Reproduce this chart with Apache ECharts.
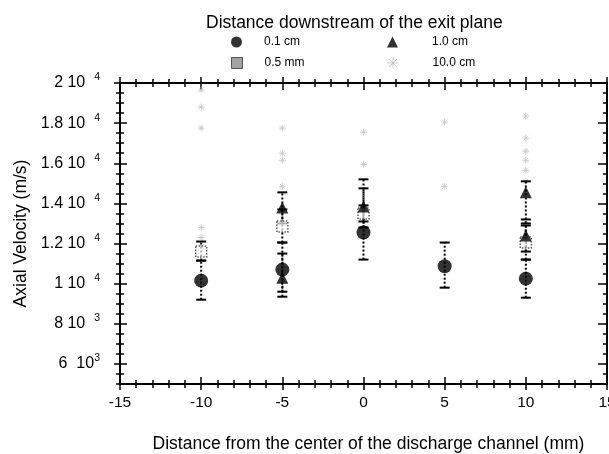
<!DOCTYPE html>
<html>
<head>
<meta charset="utf-8">
<script src="https://cdn.jsdelivr.net/npm/echarts@6/dist/echarts.min.js"></script>
<style>
html,body{margin:0;padding:0;background:#fff;}
#chart{width:609px;height:454px;}
</style>
</head>
<body>
<div id="chart"></div>
<script>
// ---- data ----
const seriesNames = ['0.1 cm', '0.5 mm', '1.0 cm', '10.0 cm'];

// 0.1 cm (filled circles)
const circleX  = [-10, -5, 0, 5, 10];
const circleY  = [10150, 10700, 12550, 10870, 10250];
const circleLo = [9200, 9350, 11200, 9800, 9300];
const circleHi = [11150, 12050, 13900, 12050, 11200];

// 0.5 mm (open squares)
const squareX  = [-10, -5, 0, 10];
const squareY  = [11600, 12850, 13500, 12050];
const squareLo = [11150, 12050, 12800, 11200];
const squareHi = [12100, 13700, 14750, 12900];

// 1.0 cm (triangles)
const triX  = [-5, -5, 0, 10, 10];
const triY  = [13800, 10300, 13850, 14550, 12400];
const triLo = [13000, 9600, 13100, 13000, 11600];
const triHi = [14550, 11500, 15200, 15100, 13200];

// 10.0 cm (faint points)
const tenX = [-10, -10, -10, -10, -10, -10, -5, -5, -5, -5, 0, 0, 5, 5, 10, 10, 10, 10, 10, 10];
const tenY = [19650, 18800, 17750, 12800, 12300, 11850, 17750, 16500, 16150, 14850, 17550, 15950, 18050, 14850, 18350, 17250, 16600, 16150, 15650, 15100];

// axes
const xMin = -15, xMax = 15, xMajor = 5, xMinor = 1;
const yMin = 5000, yMax = 20000, yMinor = 500;
const yTickValues   = [6000, 8000, 10000, 12000, 14000, 16000, 18000, 20000];
const yTickMantissa = ['6  10', '8 10  ', '1 10  ', '1.2 10  ', '1.4 10  ', '1.6 10  ', '1.8 10  ', '2 10  '];
const yTickExponent = ['3', '3', '4', '4', '4', '4', '4', '4'];

const titleText = 'Distance downstream of the exit plane';
const xTitle = 'Distance from the center of the discharge channel (mm)';
const yTitle = 'Axial Velocity (m/s)';

// ---- chart ----
const FONT = '"Liberation Sans", Arial, Helvetica, sans-serif';
const INK = '#000';
const zip = (xs, ys) => xs.map((x, i) => [x, ys[i]]);
const zip3 = (xs, lo, hi) => xs.map((x, i) => [x, lo[i], hi[i]]);

function errRender(params, api) {
  const x = api.value(0), lo = api.value(1), hi = api.value(2);
  const p1 = api.coord([x, lo]);
  const p2 = api.coord([x, hi]);
  const cap = 5;
  return {
    type: 'group',
    children: [
      {type: 'line', shape: {x1: p1[0], y1: p1[1], x2: p2[0], y2: p2[1]},
       style: {stroke: INK, lineWidth: 2, lineDash: [2, 2]}},
      {type: 'line', shape: {x1: p1[0] - cap, y1: p1[1], x2: p1[0] + cap, y2: p1[1]},
       style: {stroke: INK, lineWidth: 2}},
      {type: 'line', shape: {x1: p2[0] - cap, y1: p2[1], x2: p2[0] + cap, y2: p2[1]},
       style: {stroke: INK, lineWidth: 2}}
    ]
  };
}

const starPath = 'path://M5,0L5,10M0,5L10,5M1.5,1.5L8.5,8.5M8.5,1.5L1.5,8.5';

function xAxisBase(extra) {
  return Object.assign({
    type: 'value', min: xMin, max: xMax, interval: xMajor,
    axisLine: {show: false, onZero: false}, axisTick: {show: false}, axisLabel: {show: false},
    splitLine: {show: false}
  }, extra);
}
function yAxisBase(extra) {
  return Object.assign({
    type: 'value', min: yMin, max: yMax, interval: yMinor,
    axisLine: {show: false, onZero: false}, axisTick: {show: false}, axisLabel: {show: false},
    splitLine: {show: false}
  }, extra);
}
const lineStyle = {color: INK, width: 2};
const tickStyle = {color: INK, width: 1.5};

const chart = echarts.init(document.getElementById('chart'), null, {renderer: 'canvas'});
const legendCommon = {
  itemWidth: 11, itemHeight: 11,
  selectedMode: false
};
const legendTextL = {fontFamily: FONT, fontSize: 12, color: INK, padding: [0, 0, 0, 17]};
const legendTextR = {fontFamily: FONT, fontSize: 12, color: INK, padding: [0, 0, 0, 29]};
chart.setOption({
  animation: false,
  backgroundColor: '#fff',
  title: {
    text: titleText, left: 201, top: 9,
    textStyle: {fontFamily: FONT, fontSize: 17.5, fontWeight: 'normal', color: INK}
  },
  legend: [
    Object.assign({data: [{name: seriesNames[0], icon: 'circle'}], left: 226, top: 31, textStyle: legendTextL}, legendCommon),
    Object.assign({data: [{name: seriesNames[2], icon: 'triangle'}], left: 382, top: 31, textStyle: legendTextR}, legendCommon),
    Object.assign({data: [{name: seriesNames[1], icon: 'rect',
      itemStyle: {color: '#8a8a8a', borderColor: '#333', borderWidth: 1, borderType: 'solid'}}], left: 226, top: 52, textStyle: legendTextL}, legendCommon),
    Object.assign({data: [{name: seriesNames[3], icon: starPath,
      itemStyle: {color: '#bbb', borderColor: '#bbb', borderWidth: 1}}], left: 382, top: 52, textStyle: legendTextR}, legendCommon)
  ],
  grid: {left: 120, right: 2, top: 83, bottom: 70, outerBoundsMode: 'none', containLabel: false},
  xAxis: [
    xAxisBase({position: 'bottom', axisLine: {show: true, onZero: false, lineStyle},
      axisLabel: {show: true, fontFamily: FONT, fontSize: 15.5, color: INK, margin: 11},
      name: xTitle, nameLocation: 'middle', nameGap: 51,
      nameTextStyle: {fontFamily: FONT, fontSize: 17.5, color: INK, padding: [0, 0, 0, 10]}}),
    xAxisBase({position: 'bottom', offset: 6, axisTick: {show: true, inside: true, length: 13, lineStyle: tickStyle}}),
    xAxisBase({position: 'bottom', offset: 4, interval: xMinor, axisTick: {show: true, inside: true, length: 8, lineStyle: tickStyle}}),
    xAxisBase({position: 'top', axisLine: {show: true, onZero: false, lineStyle}}),
    xAxisBase({position: 'top', offset: 6, axisTick: {show: true, inside: true, length: 13, lineStyle: tickStyle}}),
    xAxisBase({position: 'top', offset: 4, interval: xMinor, axisTick: {show: true, inside: true, length: 8, lineStyle: tickStyle}})
  ],
  yAxis: [
    yAxisBase({position: 'left', axisLine: {show: true, onZero: false, lineStyle},
      axisLabel: {show: true, customValues: yTickValues, margin: 20,
        formatter: function (v) {
          const i = yTickValues.indexOf(v);
          if (i < 0) return '';
          return '{m|' + yTickMantissa[i] + '}{e|' + yTickExponent[i] + '}';
        },
        rich: {
          m: {fontFamily: FONT, fontSize: 16, color: INK},
          e: {fontFamily: FONT, fontSize: 10.5, color: INK, padding: [0, 0, 11, 0]}
        }
      },
      name: yTitle, nameLocation: 'middle', nameGap: 89, nameRotate: 90,
      nameTextStyle: {fontFamily: FONT, fontSize: 17.5, color: INK}}),
    yAxisBase({position: 'left', offset: 6, axisTick: {show: true, inside: true, length: 13, customValues: yTickValues, lineStyle: tickStyle}}),
    yAxisBase({position: 'left', offset: 4, axisTick: {show: true, inside: true, length: 8, lineStyle: tickStyle}}),
    yAxisBase({position: 'right', axisLine: {show: true, onZero: false, lineStyle}}),
    yAxisBase({position: 'right', axisTick: {show: true, inside: true, length: 9, customValues: yTickValues, lineStyle: tickStyle}}),
    yAxisBase({position: 'right', axisTick: {show: true, inside: true, length: 4, lineStyle: tickStyle}})
  ],
  series: [
    {name: seriesNames[3], type: 'scatter', data: zip(tenX, tenY), symbol: starPath, symbolSize: 7,
      itemStyle: {color: '#c4c4c4', borderColor: '#c4c4c4', borderWidth: 1}, z: 2},
    {name: 'err-square', type: 'custom', renderItem: errRender, data: zip3(squareX, squareLo, squareHi), z: 3},
    {name: 'err-tri', type: 'custom', renderItem: errRender, data: zip3(triX, triLo, triHi), z: 3},
    {name: 'err-circle', type: 'custom', renderItem: errRender, data: zip3(circleX, circleLo, circleHi), z: 3},
    {name: seriesNames[1], type: 'scatter', data: zip(squareX, squareY), symbol: 'rect', symbolSize: 11,
      itemStyle: {color: 'rgba(255,255,255,0.85)', borderColor: '#333', borderWidth: 1.5, borderType: 'dotted'}, z: 4},
    {name: seriesNames[2], type: 'scatter', data: zip(triX, triY), symbol: 'triangle', symbolSize: 12,
      itemStyle: {color: INK}, z: 5},
    {name: seriesNames[0], type: 'scatter', data: zip(circleX, circleY), symbol: 'circle', symbolSize: 14,
      itemStyle: {color: INK}, z: 6}
  ]
});
</script>
</body>
</html>
